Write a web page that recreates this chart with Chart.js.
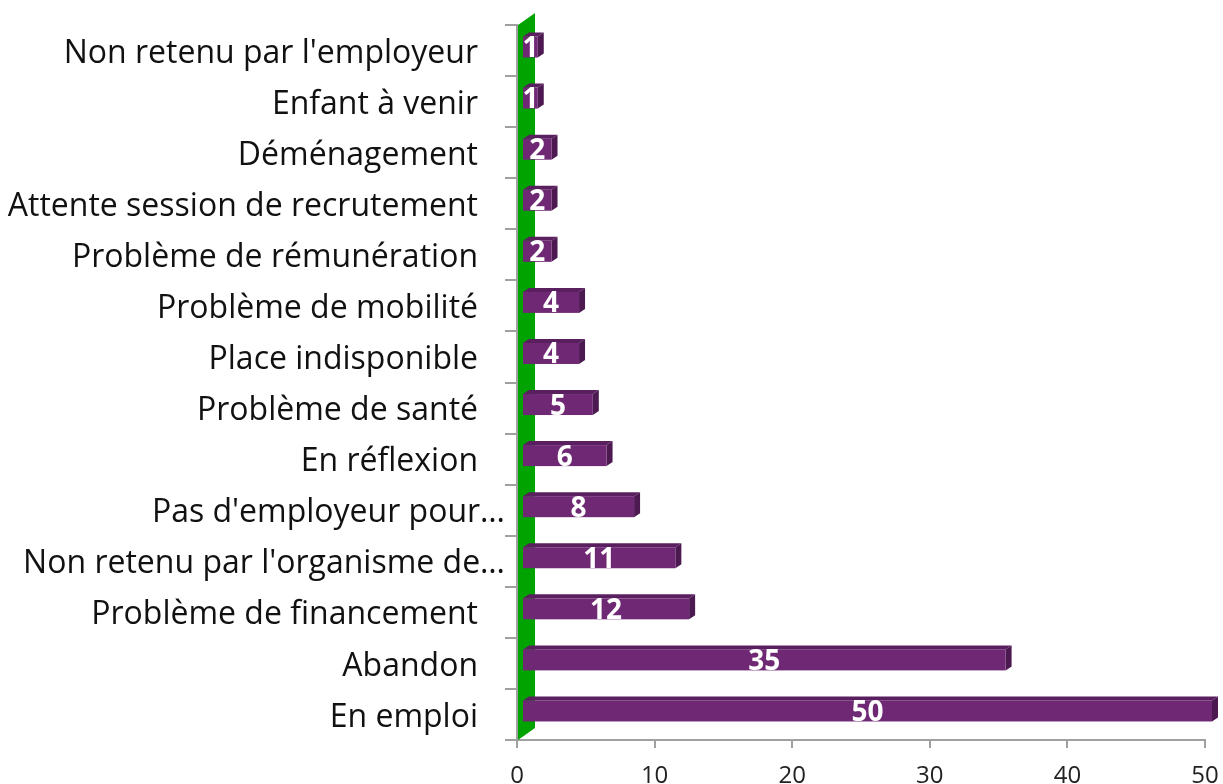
<!DOCTYPE html>
<html>
<head>
<meta charset="utf-8">
<script src="https://cdn.jsdelivr.net/npm/chart.js@4/dist/chart.umd.min.js"></script>
<style>
  html, body { margin: 0; padding: 0; background: #fff; }
  #wrap { width: 1223px; height: 784px; }
</style>
</head>
<body>
<div id="wrap"><canvas id="chart" width="1223" height="784"></canvas></div>
<script>
// Motifs, top to bottom as in the picture
const categories = [
  "Non retenu par l'employeur",
  "Enfant à venir",
  "Déménagement",
  "Attente session de recrutement",
  "Problème de rémunération",
  "Problème de mobilité",
  "Place indisponible",
  "Problème de santé",
  "En réflexion",
  "Pas d'employeur pour…",
  "Non retenu par l'organisme de…",
  "Problème de financement",
  "Abandon",
  "En emploi",
];
const counts = [1, 1, 2, 2, 2, 4, 4, 5, 6, 8, 11, 12, 35, 50];
const xTicks = [0, 10, 20, 30, 40, 50];

const FRONT = "#6f2874";
const TOP = "#5a1f5e";
const SIDE = "#4c1950";
const WALL = "#00a300";
const AXIS = "#a0a0a0";

// green back wall + 3D bars + labels
const bars3d = {
  id: "bars3d",
  beforeDatasetsDraw(chart) {
    const { ctx, chartArea } = chart;
    const l = chartArea.left + 1, t = chartArea.top, b = chartArea.bottom;
    ctx.save();
    ctx.fillStyle = WALL;
    ctx.beginPath();
    ctx.moveTo(l, b);
    ctx.lineTo(l, t);
    ctx.lineTo(l + 17, t - 12);
    ctx.lineTo(l + 17, b - 12);
    ctx.closePath();
    ctx.fill();
    ctx.restore();
  },
  afterDatasetsDraw(chart) {
    const { ctx } = chart;
    const meta = chart.getDatasetMeta(0);
    const dx = 6, dy = 4, up = 3.5;
    ctx.save();
    meta.data.forEach((bar, i) => {
      const x0 = bar.base + 5;
      const x1 = bar.x + 7;
      const h = bar.height;
      const y0 = bar.y - up - h / 2;
      const y1 = bar.y - up + h / 2;

      // top face
      ctx.fillStyle = TOP;
      ctx.beginPath();
      ctx.moveTo(x0, y0);
      ctx.lineTo(x0 + dx, y0 - dy);
      ctx.lineTo(x1 + dx, y0 - dy);
      ctx.lineTo(x1, y0);
      ctx.closePath();
      ctx.fill();

      // side face
      ctx.fillStyle = SIDE;
      ctx.beginPath();
      ctx.moveTo(x1, y0);
      ctx.lineTo(x1 + dx, y0 - dy);
      ctx.lineTo(x1 + dx, y1 - dy);
      ctx.lineTo(x1, y1);
      ctx.closePath();
      ctx.fill();

      // front face
      ctx.fillStyle = FRONT;
      ctx.fillRect(x0, y0, x1 - x0, h);

      // value
      ctx.fillStyle = "#ffffff";
      ctx.font = "bold 28px 'Open Sans'";
      ctx.textAlign = "center";
      ctx.textBaseline = "middle";
      ctx.fillText(String(counts[i]), (x0 + x1) / 2, (y0 + y1) / 2 + 2);
    });
    ctx.restore();
  },
  afterDraw(chart) {
    // category labels, the cut ones sit closer to the axis
    const { ctx, chartArea } = chart;
    const yScale = chart.scales.y;
    ctx.save();
    ctx.fillStyle = "#111111";
    ctx.font = "32px 'Open Sans'";
    ctx.textAlign = "right";
    ctx.textBaseline = "middle";
    categories.forEach((name, i) => {
      const y = yScale.getPixelForTick(i) + 3;
      const x = name.endsWith("…") ? chartArea.left - 12 : chartArea.left - 39;
      ctx.fillText(name, x, y);
    });
    ctx.restore();
  },
};

new Chart(document.getElementById("chart"), {
  type: "bar",
  data: {
    labels: categories,
    datasets: [
      {
        data: counts,
        backgroundColor: "rgba(0,0,0,0)",
        barThickness: 21,
      },
    ],
  },
  options: {
    indexAxis: "y",
    responsive: false,
    animation: false,
    layout: { padding: { top: 25, right: 18, left: 0, bottom: 0 } },
    plugins: {
      legend: { display: false },
      tooltip: { enabled: false },
    },
    scales: {
      x: {
        min: 0,
        max: 50,
        afterBuildTicks: (axis) => {
          axis.ticks = xTicks.map((v) => ({ value: v }));
        },
        afterFit: (axis) => {
          axis.height = 44;
          axis.paddingLeft = 0;
          axis.paddingRight = 0;
        },
        grid: {
          drawOnChartArea: false,
          tickLength: 8,
          color: AXIS,
          lineWidth: 2,
        },
        border: { color: AXIS, width: 2 },
        ticks: {
          color: "#222222",
          font: { family: "Open Sans", size: 24 },
          padding: 14,
          maxRotation: 0,
        },
      },
      y: {
        afterFit: (axis) => {
          axis.width = 517;
        },
        grid: {
          drawOnChartArea: false,
          tickLength: 12,
          color: AXIS,
          lineWidth: 2,
          offset: true,
        },
        border: { color: AXIS, width: 2 },
        ticks: { display: false },
      },
    },
  },
  plugins: [bars3d],
});
</script>
</body>
</html>
